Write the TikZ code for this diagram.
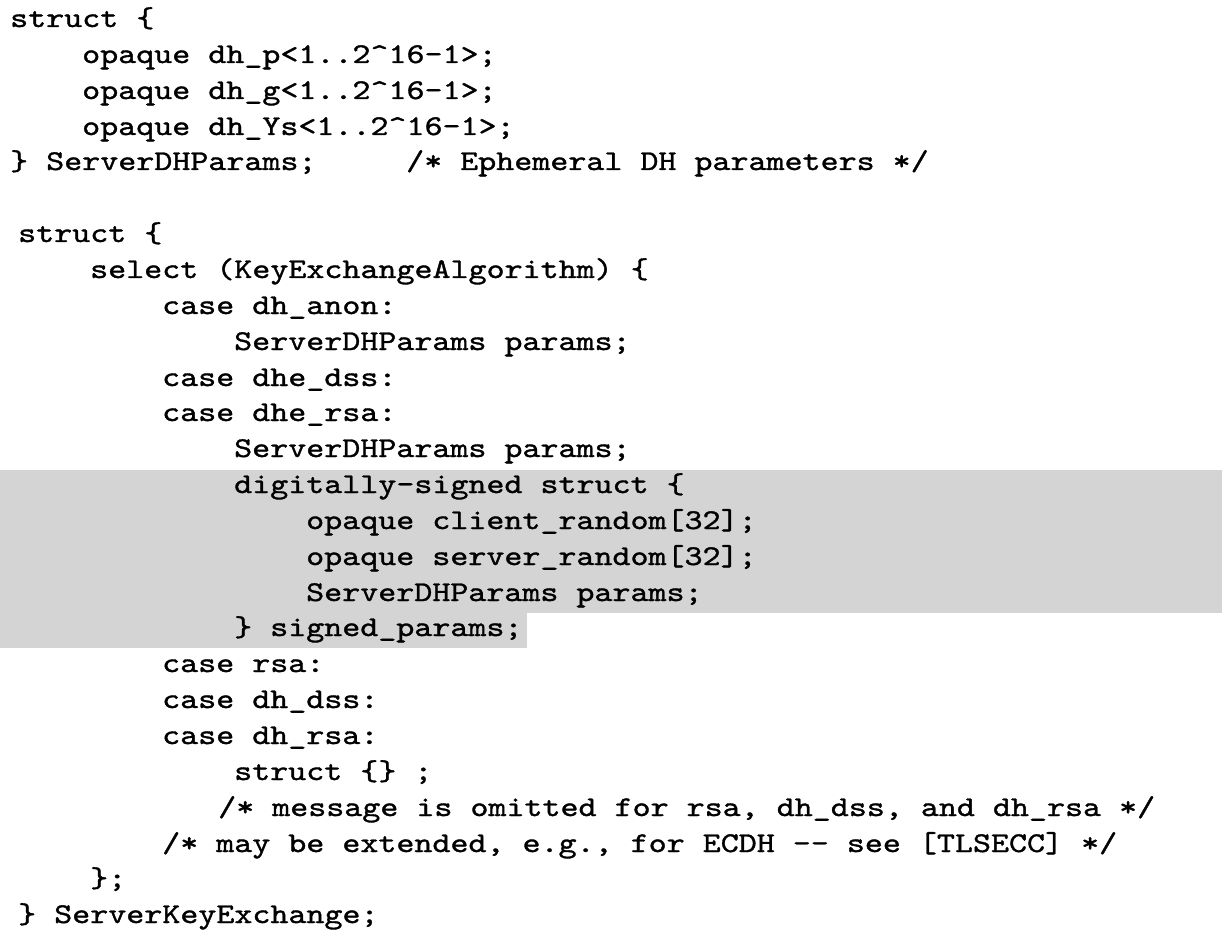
\documentclass[tikz,border=0pt]{standalone}
\usepackage{fontspec}
\newfontfamily\codefont{lmmono10-regular.otf}[FakeStretch=1.2,FakeBold=1.2]
\definecolor{hlgray}{RGB}{212,212,212}
\begin{document}
\begin{tikzpicture}[x=1pt,y=1pt,
  code/.style={anchor=base west,inner sep=0pt,font=\codefont\fontsize{28.6}{36}\selectfont}]
\useasboundingbox (0,0) rectangle (1222,-949);
% highlighted signed part
\fill[hlgray] (0,-470) rectangle (1222,-613);
\fill[hlgray] (0,-613) rectangle (527,-648);
% ServerDHParams
\node[code] (dhopen) at (10,-27) {struct \{};
\node[code] (dhp) at (82,-63) {opaque dh\_p<1..2\textasciicircum16-1>;};
\node[code] (dhg) at (82,-99) {opaque dh\_g<1..2\textasciicircum16-1>;};
\node[code] (dhys) at (82,-135) {opaque dh\_Ys<1..2\textasciicircum16-1>;};
\node[code] (dhclose) at (10,-170) {\} ServerDHParams;};
\node[code] (dhnote) at (406,-170) {/* Ephemeral DH parameters */};
% ServerKeyExchange
\node[code] (skeopen) at (18,-242) {struct \{};
\node[code] (select) at (90,-278) {select (KeyExchangeAlgorithm) \{};
\node[code] (anon) at (162,-314) {case dh\_anon:};
\node[code] (anonpar) at (234,-350) {ServerDHParams params;};
\node[code] (dhedss) at (162,-386) {case dhe\_dss:};
\node[code] (dhersa) at (162,-421) {case dhe\_rsa:};
\node[code] (dhepar) at (234,-457) {ServerDHParams params;};
\node[code] (signopen) at (234,-493) {digitally-signed struct \{};
\node[code] (crand) at (306,-529) {opaque client\_random[32];};
\node[code] (srand) at (306,-565) {opaque server\_random[32];};
\node[code] (signpar) at (306,-601) {ServerDHParams params;};
\node[code] (signclose) at (234,-636) {\} signed\_params;};
\node[code] (rsa) at (162,-672) {case rsa:};
\node[code] (dhdss) at (162,-708) {case dh\_dss:};
\node[code] (dhrsa) at (162,-744) {case dh\_rsa:};
\node[code] (empty) at (234,-780) {struct \{\} ;};
\node[code] (omitted) at (218,-816) {/* message is omitted for rsa, dh\_dss, and dh\_rsa */};
\node[code] (extend) at (162,-852) {/* may be extended, e.g., for ECDH -{}- see [TLSECC] */};
\node[code] (selclose) at (90,-887) {\};};
\node[code] (skeclose) at (18,-923) {\} ServerKeyExchange;};
\end{tikzpicture}
\end{document}
